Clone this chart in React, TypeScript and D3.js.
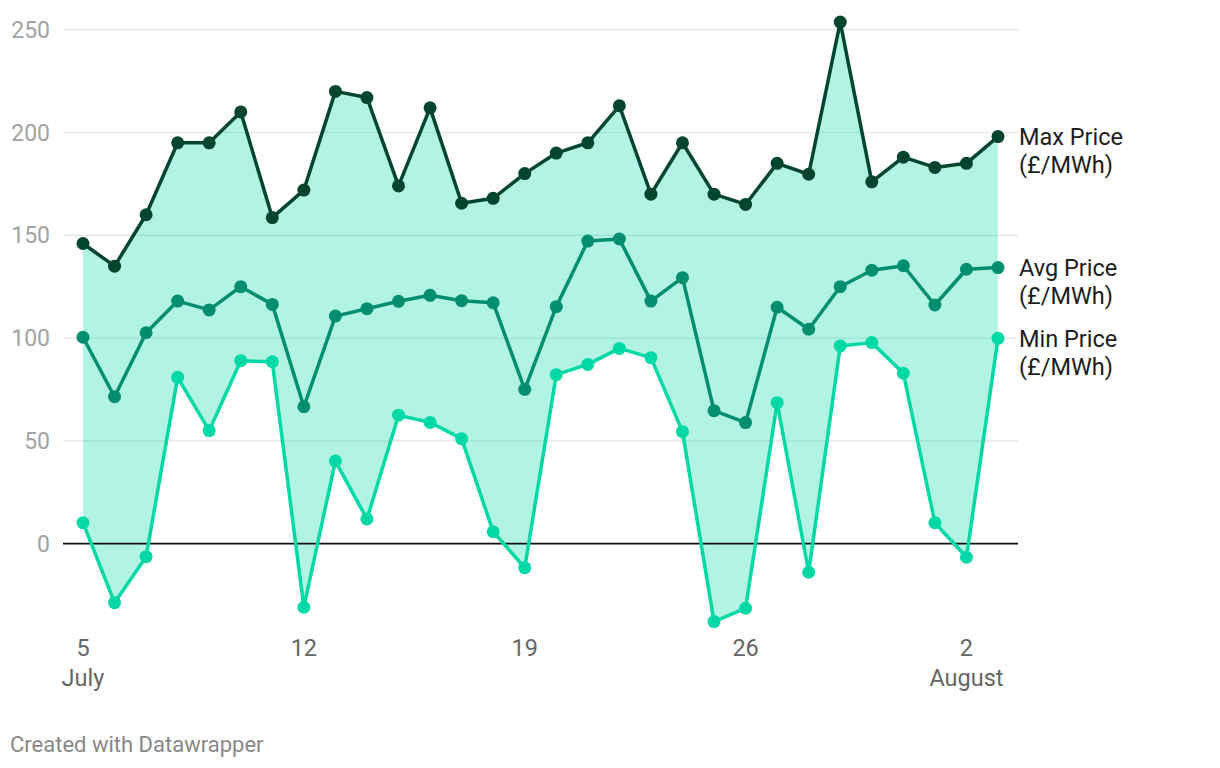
import React, { useEffect, useRef } from "react";
import * as d3 from "d3";

// daily prices, 5 July – 3 August
const days = [
  "2021-07-05", "2021-07-06", "2021-07-07", "2021-07-08", "2021-07-09", "2021-07-10",
  "2021-07-11", "2021-07-12", "2021-07-13", "2021-07-14", "2021-07-15", "2021-07-16",
  "2021-07-17", "2021-07-18", "2021-07-19", "2021-07-20", "2021-07-21", "2021-07-22",
  "2021-07-23", "2021-07-24", "2021-07-25", "2021-07-26", "2021-07-27", "2021-07-28",
  "2021-07-29", "2021-07-30", "2021-07-31", "2021-08-01", "2021-08-02", "2021-08-03",
];
const maxPrice = [
  146, 135, 160, 195, 195, 210, 158.6, 172, 220, 217, 174, 212, 165.6, 168, 180,
  190, 195, 213, 170, 195, 170, 165, 185, 179.7, 253.7, 176, 188, 183, 185, 198,
];
const avgPrice = [
  100.4, 71.5, 102.6, 118, 113.7, 125, 116.4, 66.6, 110.7, 114.3, 117.9, 120.8, 118.2, 117.2, 75.1,
  115.3, 147.2, 148.2, 118, 129.4, 64.7, 58.9, 115, 104.3, 125, 133, 135.2, 116.1, 133.5, 134.3,
];
const minPrice = [
  10.2, -28.7, -6.3, 80.9, 55, 89, 88.5, -30.9, 40.2, 12, 62.5, 59, 51.1, 5.8, -11.7,
  82.2, 87.2, 95, 90.5, 54.5, -37.9, -31.4, 68.6, -13.9, 96.2, 97.8, 82.9, 10.2, -6.6, 99.9,
];
const yTicks = [0, 50, 100, 150, 200, 250];
const xTicks = ["2021-07-05", "2021-07-12", "2021-07-19", "2021-07-26", "2021-08-02"];
const seriesNames = ["Max Price", "Avg Price", "Min Price"];
const seriesUnit = "(£/MWh)";

const colors = ["#00452e", "#008f6e", "#00d9a5"];
const font = "Roboto, sans-serif";

export default function App() {
  const ref = useRef<SVGSVGElement | null>(null);

  useEffect(() => {
    const width = 1220;
    const height = 768;
    const svg = d3.select(ref.current).attr("width", width).attr("height", height);
    svg.selectAll("*").remove();

    const parse = d3.utcParse("%Y-%m-%d");
    const dates = days.map((d) => parse(d) as Date);

    const x = d3
      .scaleUtc()
      .domain([dates[0], dates[dates.length - 1]])
      .range([83, 998]);
    const y = d3.scaleLinear().domain([0, 250]).range([543.7, 29.7]);

    // grid
    svg
      .append("g")
      .selectAll("line")
      .data(yTicks.filter((t) => t !== 0))
      .join("line")
      .attr("x1", 63)
      .attr("x2", 1018)
      .attr("y1", (d) => y(d))
      .attr("y2", (d) => y(d))
      .attr("stroke", "#e3e3e3")
      .attr("stroke-width", 1.2);

    svg
      .append("g")
      .selectAll("text")
      .data(yTicks)
      .join("text")
      .attr("x", 50)
      .attr("y", (d) => y(d))
      .attr("dy", "0.35em")
      .attr("text-anchor", "end")
      .style("font-family", font)
      .style("font-size", "23px")
      .style("fill", "#a3a3a3")
      .text((d) => d);

    // range band between min and max
    const area = d3
      .area<number>()
      .x((_, i) => x(dates[i]))
      .y0((i) => y(minPrice[i]))
      .y1((i) => y(maxPrice[i]));
    svg
      .append("path")
      .datum(d3.range(dates.length))
      .attr("d", area)
      .attr("fill", "#00d9a5")
      .attr("fill-opacity", 0.3);

    // zero line
    svg
      .append("line")
      .attr("x1", 63)
      .attr("x2", 1018)
      .attr("y1", y(0))
      .attr("y2", y(0))
      .attr("stroke", "#111")
      .attr("stroke-width", 1.8);

    const allSeries = [maxPrice, avgPrice, minPrice];
    const line = d3
      .line<number>()
      .x((_, i) => x(dates[i]))
      .y((d) => y(d));

    allSeries.forEach((vals, s) => {
      const g = svg.append("g");
      g.append("path")
        .datum(vals)
        .attr("d", line)
        .attr("fill", "none")
        .attr("stroke", colors[s])
        .attr("stroke-width", 3.5)
        .attr("stroke-linejoin", "round");
      g.selectAll("circle")
        .data(vals)
        .join("circle")
        .attr("cx", (_, i) => x(dates[i]))
        .attr("cy", (d) => y(d))
        .attr("r", 6.5)
        .attr("fill", colors[s]);

      const last = vals[vals.length - 1];
      const label = g
        .append("text")
        .attr("x", 1019)
        .attr("y", y(last))
        .style("font-family", font)
        .style("font-size", "23.5px")
        .style("fill", "#1d1d1d");
      label.append("tspan").attr("x", 1019).attr("dy", "0.35em").text(seriesNames[s]);
      label.append("tspan").attr("x", 1019).attr("dy", "1.2em").text(seriesUnit);
    });

    // x axis labels
    const xt = svg
      .append("g")
      .selectAll("text")
      .data(xTicks.map((d) => parse(d) as Date))
      .join("text")
      .attr("x", (d) => x(d))
      .attr("y", 656)
      .attr("text-anchor", "middle")
      .style("font-family", font)
      .style("font-size", "23.5px")
      .style("fill", "#666");
    xt.append("tspan").text((d) => d3.utcFormat("%-d")(d));
    xt.filter((d, i) => i === 0 || i === xTicks.length - 1)
      .append("tspan")
      .attr("x", (d) => x(d))
      .attr("dy", "1.28em")
      .text((d) => d3.utcFormat("%B")(d));

    svg
      .append("text")
      .attr("x", 10)
      .attr("y", 752)
      .style("font-family", font)
      .style("font-size", "22px")
      .style("fill", "#888")
      .text("Created with Datawrapper");
  }, []);

  return (
    <div style={{ position: "absolute", left: 0, top: 0, background: "#fff" }}>
      <svg ref={ref}></svg>
    </div>
  );
}
